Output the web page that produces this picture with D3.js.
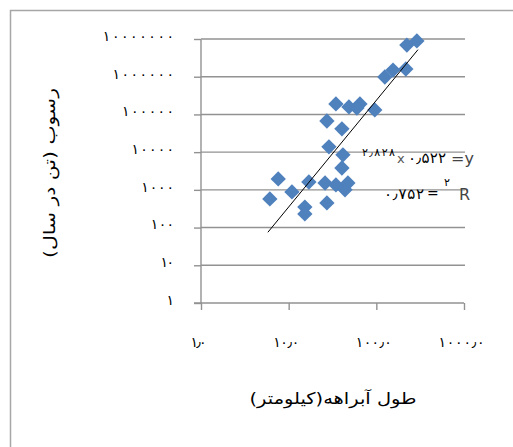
<!DOCTYPE html>
<html><head><meta charset="utf-8">
<script src="https://cdn.jsdelivr.net/npm/d3@7"></script>
<style>
html,body{margin:0;padding:0;background:#fff;}
svg{display:block;}
text{font-family:"DejaVu Sans",sans-serif;}
</style></head>
<body>
<svg id="c" width="513" height="447"></svg>
<script>
// Stream length (km) and sediment (ton/year)
const streamLength = [6.1, 7.6, 10.9, 15.3, 15.3, 17, 26, 27.3, 34.6, 40.5, 41.6, 47.4, 43.9, 28.8, 27.3, 34.6, 40.5, 48.7, 65, 96, 125, 155, 217, 223, 290, 60];
const sediment     = [575, 1950, 880, 350, 230, 1620, 1520, 450, 1350, 3800, 8500, 1520, 1000, 13800, 67000, 190000, 41500, 158000, 190000, 132000, 985000, 1500000, 1600000, 6900000, 8900000, 148000];
const xTicks = [1, 10, 100, 1000];
const yTicks = [1, 10, 100, 1000, 10000, 100000, 1000000, 10000000];
const trendA = 0.522, trendB = 2.828;
const eqExponent = "2.828", eqCoef = "0.522", r2Value = "0.752";
const xTitle = "طول آبراهه(کیلومتر)";
const yTitle = "رسوب (تن در سال)";

const fa = s => String(s).replace(/[0-9]/g, d => "۰۱۲۳۴۵۶۷۸۹"[+d]).replace(/\./g, "٫");

const svg = d3.select("#c");
const grid = "#929292";
// outer frame
svg.append("path").attr("d","M10.5,447 V10.5 H513").attr("fill","none").attr("stroke","#a6a6a6").attr("stroke-width",1.5);

const x = d3.scaleLog().domain([1,1000]).range([201,464]);
const y = d3.scaleLog().domain([1,1e7]).range([303,39]);

// horizontal gridlines
svg.append("g").selectAll("line").data(yTicks.slice(1)).join("line")
  .attr("x1",201).attr("x2",465).attr("y1",d=>y(d)).attr("y2",d=>y(d))
  .attr("stroke",grid).attr("stroke-width",1.4);

// y axis
const ya = svg.append("g").attr("transform","translate(201,0)")
  .call(d3.axisLeft(y).tickValues(yTicks).tickSize(7).tickFormat(d=>fa(d)));
ya.select(".domain").attr("stroke",grid).attr("stroke-width",1.4).attr("d","M0,39.5V303");
ya.selectAll(".tick line").attr("stroke",grid).attr("stroke-width",1.4);
ya.selectAll(".tick text").attr("x",-27).attr("dy","0.1em").attr("font-size",14)
  .attr("fill","#000").attr("font-family","DejaVu Sans")
  .each(function(d){ const n=String(d).length; if(n>1) d3.select(this).attr("textLength", 9.6*(n-1)+4); });

// x axis
const xa = svg.append("g").attr("transform","translate(0,303)")
  .call(d3.axisBottom(x).tickValues(xTicks).tickSize(7).tickFormat(d=>fa(d.toFixed(1))));
xa.select(".domain").attr("stroke",grid).attr("stroke-width",1.4).attr("d","M194,0H464");
xa.selectAll(".tick line").attr("stroke",grid).attr("stroke-width",1.4);
xa.selectAll(".tick text").attr("y",34).attr("dx",-3).attr("font-size",14)
  .attr("fill","#000").attr("font-family","DejaVu Sans")
  .each(function(d){ const n=d.toFixed(1).length; d3.select(this).attr("textLength", 10*(n-1)-4); });

// markers
const pts = streamLength.map((v,i)=>[v, sediment[i]]);
const diamond = d3.symbol().type(d3.symbolDiamond2).size(150);
svg.append("g").selectAll("path").data(pts).join("path")
  .attr("d", diamond)
  .attr("transform", d=>`translate(${x(d[0])},${y(d[1])})`)
  .attr("fill","#4f81bd");

// trendline
const xMin = d3.min(streamLength)*0.95, xMax = d3.max(streamLength)*1.03;
const tl = [xMin, xMax].map(v=>[v, trendA*Math.pow(v,trendB)]);
svg.append("path").attr("d", d3.line().x(d=>x(d[0])).y(d=>y(d[1]))(tl))
  .attr("stroke","#000").attr("stroke-width",1).attr("fill","none");

// equation
const eq = svg.append("g").attr("font-family","DejaVu Sans");
eq.append("text").attr("x",362).attr("y",156).attr("font-size",11).attr("textLength",33).text(fa(eqExponent));
eq.append("text").attr("x",397).attr("y",163).attr("font-size",13).attr("fill","#555").text("x");
eq.append("text").attr("x",408).attr("y",163).attr("font-size",15).attr("textLength",38).text(fa(eqCoef));
eq.append("text").attr("x",451).attr("y",164).attr("font-size",16).attr("fill","#444").text("=y");
// R²
eq.append("text").attr("x",384).attr("y",199).attr("font-size",15).attr("textLength",40).text(fa(r2Value));
eq.append("text").attr("x",427).attr("y",198).attr("font-size",14).text("=");
eq.append("text").attr("x",444).attr("y",186).attr("font-size",11).text(fa(2));
eq.append("text").attr("x",459).attr("y",200).attr("font-size",16).attr("fill","#444").text("R");

// axis titles
svg.append("text").attr("x",333).attr("y",404).attr("text-anchor","middle")
  .attr("direction","rtl").attr("font-size",16).attr("textLength",167).attr("lengthAdjust","spacingAndGlyphs")
  .attr("font-family","DejaVu Sans").text(xTitle);
svg.append("text").attr("transform","translate(55,173) rotate(-90)").attr("text-anchor","middle")
  .attr("direction","rtl").attr("font-size",16).attr("textLength",170).attr("lengthAdjust","spacingAndGlyphs")
  .attr("font-family","DejaVu Sans").text(yTitle);
</script>
</body></html>
